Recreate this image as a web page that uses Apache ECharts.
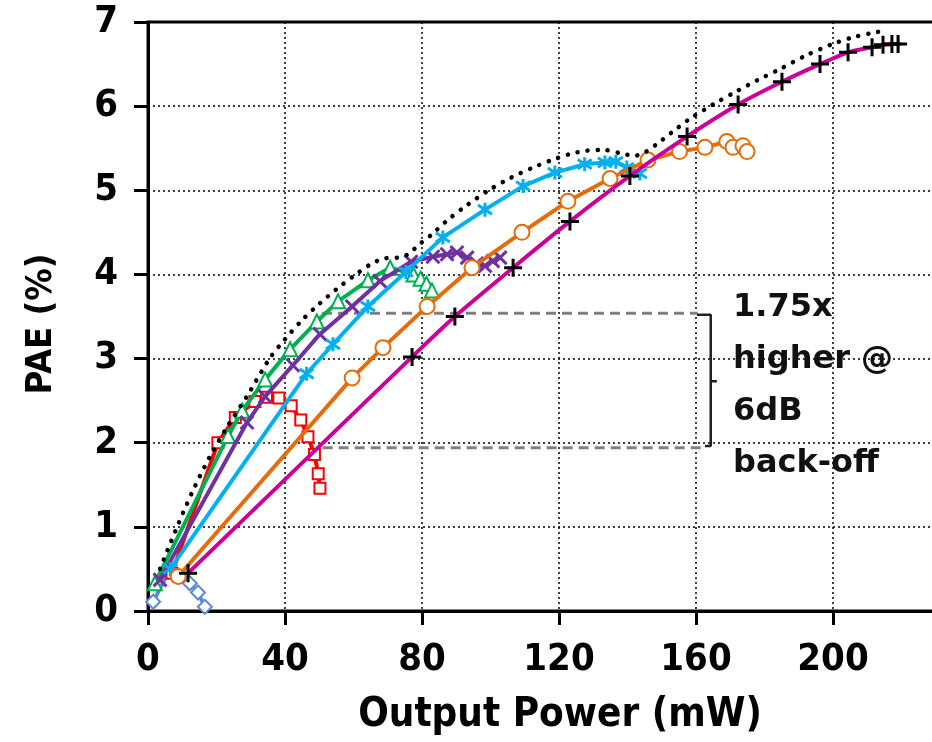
<!DOCTYPE html>
<html>
<head>
<meta charset="utf-8">
<script src="https://cdn.jsdelivr.net/npm/echarts@6/dist/echarts.min.js"></script>
<style>
  html, body { margin: 0; padding: 0; background: #fff; }
  #chart { width: 932px; height: 742px; }
</style>
</head>
<body>
<div id="chart"></div>
<script>
// Axis setup
const xTicks = [0, 40, 80, 120, 160, 200];
const yTicks = [0, 1, 2, 3, 4, 5, 6, 7];
const xTitle = 'Output Power (mW)';
const yTitle = 'PAE (%)';

// PAE (%) versus output power (mW), one curve per bias / configuration
const seriesDiamond = [[1.5, 0.11], [6.5, 0.5], [12.2, 0.33], [14.6, 0.22], [16.6, 0.05]];
const seriesSquare = [[7, 0.45], [20.4, 2.0], [25.5, 2.3], [31.2, 2.49], [34.6, 2.54], [38.2, 2.53],
  [41.8, 2.44], [44.6, 2.27], [46.7, 2.07], [48.6, 1.86], [49.7, 1.63], [50.2, 1.46]];
const seriesTriangle = [[2, 0.33], [23.4, 2.08], [27.5, 2.38], [34.2, 2.75], [41.5, 3.11], [49.3, 3.44],
  [55.5, 3.68], [64.2, 3.93], [70.7, 4.08], [77.5, 4.0], [79.6, 3.95], [81.3, 3.89], [82.9, 3.81]];
const seriesCross = [[3.5, 0.37], [28.9, 2.24], [34.2, 2.55], [42.3, 2.92], [50.2, 3.29], [59.6, 3.62],
  [67.7, 3.92], [76.8, 4.15], [83.2, 4.21], [87.3, 4.24], [90.2, 4.26], [93.2, 4.2], [96, 4.13],
  [98.4, 4.1], [100.7, 4.16], [102.8, 4.2]];
const seriesStar = [[6.5, 0.5], [46.3, 2.82], [54, 3.17], [64.2, 3.62], [75.3, 4.03], [86.1, 4.44],
  [98.4, 4.77], [109.5, 5.05], [118.8, 5.21], [127.5, 5.31], [133.4, 5.33], [136.6, 5.34],
  [139.8, 5.27], [143.6, 5.2]];
const seriesCircle = [[8.8, 0.41], [59.6, 2.77], [68.6, 3.13], [81.5, 3.62], [94.6, 4.08], [109.2, 4.5],
  [122.6, 4.87], [134.9, 5.14], [146, 5.36], [155.2, 5.46], [162.6, 5.51], [169, 5.58],
  [170.8, 5.51], [173.7, 5.53], [174.9, 5.46]];
const seriesPlus = [[11.7, 0.45], [77.1, 3.02], [89.6, 3.5], [106.6, 4.08], [123.2, 4.63], [140.7, 5.17],
  [157.4, 5.64], [172.3, 6.02], [185.1, 6.29], [196.2, 6.5], [204.4, 6.64], [211.4, 6.7],
  [214.6, 6.73], [217.2, 6.74], [219, 6.74]];
const envelope = [[3.5, 0.5], [8.5, 1.0], [13, 1.42], [18, 1.83], [23, 2.18], [29, 2.56], [35.5, 3.0],
  [40, 3.23], [45.3, 3.47], [50, 3.65], [55.2, 3.83], [60, 3.98], [65, 4.12], [69, 4.19], [73, 4.2],
  [76, 4.24], [79, 4.35], [83, 4.48], [87.3, 4.64], [93, 4.82], [99.9, 5.01], [106, 5.15],
  [112.4, 5.27], [118, 5.36], [123.2, 5.43], [128, 5.47], [133, 5.48], [138, 5.44], [142, 5.41],
  [145, 5.45], [148.6, 5.55], [153, 5.69], [158.2, 5.85], [165, 6.02], [172, 6.18], [178, 6.31],
  [184.5, 6.44], [192, 6.6], [200, 6.74], [206, 6.82], [212.8, 6.88], [216, 6.9]];

// 6 dB back-off comparison
const backoffHigh = [[50.8, 3.54], [160.5, 3.54]];
const backoffLow = [[51, 1.94], [162.5, 1.94]];
const bracket = [[160.3, 3.52], [164.3, 3.52], [164.3, 2.73], [166.1, 2.73], [164.3, 2.73],
  [164.3, 1.96], [162.6, 1.96]];
const noteLines = ['1.75x', 'higher @', '6dB', 'back-off'];

const FONT = '"DejaVu Sans", sans-serif';
const FONT_C = '"DejaVu Sans Condensed", "DejaVu Sans", sans-serif';
const CROSS = 'path://M0,0L10,10M10,0L0,10';
const PLUS = 'path://M5,0L5,10M0,5L10,5';
const STAR = 'path://M0,1L10,9M10,1L0,9M5,-1L5,11';

function curve(name, data, color, symbol, size, opts) {
  const o = opts || {};
  return {
    name, type: 'line', data,
    smooth: o.smooth || false,
    symbol, symbolSize: size,
    showAllSymbol: true,
    z: o.z || 2,
    lineStyle: { color, width: 4 },
    itemStyle: {
      color: o.markerColor || color,
      borderColor: o.markerColor || color,
      borderWidth: o.bw || 2.5
    },
    emphasis: { disabled: true },
    animation: false
  };
}

const chart = echarts.init(document.getElementById('chart'), null, { renderer: 'canvas' });

chart.setOption({
  backgroundColor: '#fff',
  animation: false,
  grid: {
    left: 148, top: 22, width: 822, height: 589,
    outerBoundsMode: 'none', containLabel: false,
    show: true, borderColor: '#000', borderWidth: 3, backgroundColor: 'transparent'
  },
  xAxis: {
    type: 'value', min: 0, max: 240, interval: 40,
    axisLine: { lineStyle: { color: '#000', width: 3 } },
    axisTick: { length: 14, lineStyle: { color: '#000', width: 3 } },
    axisLabel: {
      margin: 30, fontFamily: FONT_C, fontWeight: 'bold', fontSize: 38, color: '#000',
      showMaxLabel: false,
      formatter: v => (xTicks.indexOf(v) >= 0 ? String(v) : '')
    },
    splitLine: { show: true, lineStyle: { color: '#000', width: 1.5, type: [2, 3] } }
  },
  yAxis: {
    type: 'value', min: 0, max: 7, interval: 1,
    axisLine: { lineStyle: { color: '#000', width: 3 } },
    axisTick: { length: 14, lineStyle: { color: '#000', width: 3 } },
    axisLabel: {
      margin: 30, fontFamily: FONT_C, fontWeight: 'bold', fontSize: 38, color: '#000',
      formatter: v => (yTicks.indexOf(v) >= 0 ? String(v) : '')
    },
    splitLine: { show: true, lineStyle: { color: '#000', width: 1.5, type: [2, 3] } }
  },
  series: [
    {
      type: 'line', data: backoffHigh, symbol: 'none', silent: true, z: 1,
      lineStyle: { color: '#808080', width: 3, type: [10, 6] }
    },
    {
      type: 'line', data: backoffLow, symbol: 'none', silent: true, z: 1,
      lineStyle: { color: '#808080', width: 3, type: [10, 6] }
    },
    {
      type: 'line', data: bracket, symbol: 'none', silent: true, z: 1,
      lineStyle: { color: '#222', width: 2.5 }
    },
    curve('diamond', seriesDiamond, '#5B8BD0', 'emptyDiamond', 14, { z: 2 }),
    curve('square', seriesSquare, '#FF0000', 'emptyRect', 11, { z: 3 }),
    curve('triangle', seriesTriangle, '#00B050', 'emptyTriangle', 14, { z: 4 }),
    curve('cross', seriesCross, '#7030A0', CROSS, 13, { z: 5, bw: 3 }),
    curve('star', seriesStar, '#00B0F0', STAR, 14, { z: 6, bw: 3 }),
    curve('circle', seriesCircle, '#E46C0A', 'emptyCircle', 15, { z: 7 }),
    curve('plus', seriesPlus, '#CC0099', PLUS, 18, { z: 8, bw: 3, markerColor: '#000', smooth: 0.2 }),
    {
      name: 'envelope', type: 'line', data: envelope, smooth: 0.3, symbol: 'none', z: 9,
      lineStyle: { color: '#000', width: 4.5, type: [0.1, 10], cap: 'round' },
      silent: true
    }
  ],
  graphic: [
    {
      type: 'text', x: 560, y: 716, z: 20,
      style: { text: xTitle, font: 'bold 40px ' + FONT_C, fill: '#000', align: 'center', verticalAlign: 'middle' }
    },
    {
      type: 'text', x: 42, y: 324, rotation: Math.PI / 2, z: 20,
      style: { text: yTitle, font: 'bold 36px ' + FONT_C, fill: '#000', align: 'center', verticalAlign: 'middle' }
    }
  ].concat(noteLines.map((t, i) => ({
    type: 'text', left: 733, top: 292 + i * 52, z: 20,
    style: { text: t, font: 'bold 32px ' + FONT, fill: '#111' }
  })))
});
</script>
</body>
</html>
